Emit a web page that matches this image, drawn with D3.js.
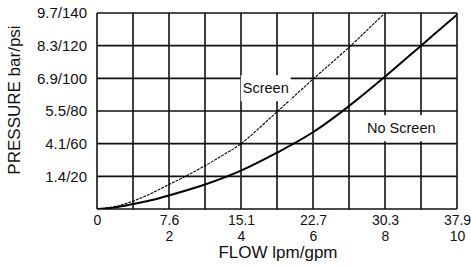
<!DOCTYPE html>
<html>
<head>
<meta charset="utf-8">
<script src="https://cdn.jsdelivr.net/npm/d3@7"></script>
<style>
  body { margin: 0; background: #fff; }
  svg { display: block; font-family: "Liberation Sans", Arial, sans-serif; }
</style>
</head>
<body>
<div class="chart-container"></div>
<script>
// flow axis (gpm), labels show lpm over gpm
var flowTicks = [0, 2, 4, 6, 8, 10];
var flowLpm = ["0", "7.6", "15.1", "22.7", "30.3", "37.9"];
var flowGpm = ["", "2", "4", "6", "8", "10"];

// pressure grid lines, one per 20 psi division (printed labels skip 2.8/40)
var pressTicks = [20, 40, 60, 80, 100, 120];
var pressLabels = ["1.4/20", "4.1/60", "5.5/80", "6.9/100", "8.3/120", "9.7/140"];

// curves: flow in gpm, pressure in grid psi
var screenFlow  = [0, 0.5, 1, 1.5, 2, 2.5, 3, 3.5, 4, 5, 6, 7, 8, 8.3];
var screenPress = [0, 1.5, 4.8, 9.5, 15, 20.5, 26.5, 33, 40, 59.5, 79.5, 99, 120, 126];
var noScreenFlow  = [0, 0.5, 1, 1.5, 2, 3, 4, 5, 6, 7, 8, 9, 10];
var noScreenPress = [0, 1, 3, 5.3, 8.3, 15, 23.5, 34.5, 47, 63, 81, 100, 119];

var labels = [
  {text: "Screen", flow: 4.05, press: 74},
  {text: "No Screen", flow: 7.5, press: 49.5}
];

// set the dimensions and margins of the graph
var margin = {top: 13, right: 14, bottom: 59, left: 97},
    width = 471 - margin.left - margin.right,
    height = 268 - margin.top - margin.bottom;

var x = d3.scaleLinear().domain([0, 10]).range([0, width]);
var y = d3.scaleLinear().domain([0, 120]).range([height, 0]);

var svg = d3.select(".chart-container").append("svg")
    .attr("width", 471)
    .attr("height", 268)
  .append("g")
    .attr("transform", "translate(" + margin.left + "," + margin.top + ")");

svg.append("clipPath").attr("id", "plot")
  .append("rect").attr("width", width).attr("height", height);

// grid
svg.selectAll(".vgrid")
    .data(d3.range(0, 11))
  .enter().append("line")
    .attr("x1", function(d) { return x(d); })
    .attr("x2", function(d) { return x(d); })
    .attr("y1", 0)
    .attr("y2", height)
    .attr("stroke", "#111")
    .attr("stroke-width", 1.6);

svg.selectAll(".hgrid")
    .data([0].concat(pressTicks))
  .enter().append("line")
    .attr("x1", 0)
    .attr("x2", width)
    .attr("y1", function(d) { return y(d); })
    .attr("y2", function(d) { return y(d); })
    .attr("stroke", "#111")
    .attr("stroke-width", 1.6);

// curves
var line = d3.line()
    .x(function(d) { return x(d[0]); })
    .y(function(d) { return y(d[1]); })
    .curve(d3.curveCatmullRom);

var curves = svg.append("g").attr("clip-path", "url(#plot)");

curves.append("path")
    .datum(d3.zip(screenFlow, screenPress))
    .attr("d", line)
    .attr("fill", "none")
    .attr("stroke", "#000")
    .attr("stroke-width", 1.1)
    .attr("stroke-dasharray", "3,1");

curves.append("path")
    .datum(d3.zip(noScreenFlow, noScreenPress))
    .attr("d", line)
    .attr("fill", "none")
    .attr("stroke", "#000")
    .attr("stroke-width", 2);

// curve labels, white box hides the grid behind them
labels.forEach(function(l) {
  var t = svg.append("text")
      .attr("x", x(l.flow))
      .attr("y", y(l.press))
      .attr("dy", "0.35em")
      .attr("font-size", 14.5)
      .attr("fill", "#111")
      .text(l.text);
  var b = t.node().getBBox();
  svg.insert("rect", function() { return t.node(); })
      .attr("x", b.x - 2)
      .attr("y", b.y - 5)
      .attr("width", b.width + 4)
      .attr("height", b.height + 10)
      .attr("fill", "#fff");
});

// y axis labels
var yAxis = svg.append("g")
    .call(d3.axisLeft(y).tickValues(pressTicks).tickSize(0).tickPadding(10)
      .tickFormat(function(d, i) { return pressLabels[i]; }));
yAxis.select(".domain").remove();
yAxis.selectAll("text")
    .attr("font-size", 15)
    .attr("font-family", null)
    .attr("fill", "#111");

// x axis labels, lpm on top of gpm in one text
var xAxis = svg.append("g")
    .attr("transform", "translate(0," + height + ")")
    .call(d3.axisBottom(x).tickValues(flowTicks).tickSize(0).tickFormat(""));
xAxis.select(".domain").remove();
xAxis.selectAll(".tick").each(function(d, i) {
  var t = d3.select(this).append("text")
      .attr("y", 16)
      .attr("text-anchor", "middle")
      .attr("font-size", 14)
      .attr("fill", "#111");
  t.append("tspan").attr("x", 0).text(flowLpm[i]);
  if (flowGpm[i]) {
    t.append("tspan").attr("x", 0).attr("dy", 15.8).text(flowGpm[i]);
  }
});

// axis titles
svg.append("text")
    .attr("x", width / 2 + 1)
    .attr("y", height + 49)
    .attr("text-anchor", "middle")
    .attr("font-size", 17)
    .attr("fill", "#111")
    .text("FLOW lpm/gpm");

svg.append("text")
    .attr("transform", "rotate(-90)")
    .attr("x", -(100 - margin.top))
    .attr("y", 19.5 - margin.left)
    .attr("text-anchor", "middle")
    .attr("font-size", 17)
    .attr("fill", "#111")
    .text("PRESSURE bar/psi");
</script>
</body>
</html>
